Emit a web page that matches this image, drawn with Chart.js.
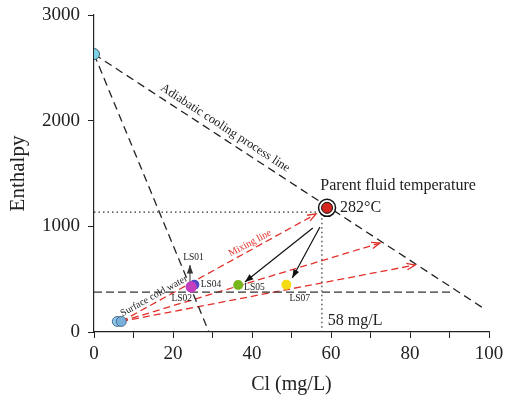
<!DOCTYPE html>
<html><head><meta charset="utf-8">
<script src="https://cdn.jsdelivr.net/npm/chart.js@4/dist/chart.umd.min.js"></script>
<style>html,body{margin:0;padding:0;background:#fff}#wrap{width:505px;height:405px}</style>
</head><body><div id="wrap"><canvas id="c" width="505" height="405"></canvas></div>
<script>
// ---- data ----
const xTicks = [0, 20, 40, 60, 80, 100];
const yTicks = [0, 1000, 2000, 3000];
const steamPoint = [{x: 0, y: 2630}];
const parentFluid = [{x: 59, y: 1175}];
const coldWaterA = [{x: 5.9, y: 100}];
const coldWaterB = [{x: 6.9, y: 100}];
const sampleNames = ['LS01', 'LS02', 'LS04', 'LS05', 'LS07'];
const sampleCl = [24.6, 24.6, 25.4, 36.5, 48.7];
const sampleH = [428, 426, 448, 445, 447];
const adiabaticLine = [{x: 0, y: 2630}, {x: 98.5, y: 227}];
const steamLossLine = [{x: 0, y: 2630}, {x: 29.1, y: 0}];
const enthalpyLevel = [{x: 0, y: 378}, {x: 91, y: 378}];
const parentGuide = [{x: 0, y: 1135}, {x: 57.7, y: 1135}, {x: 57.7, y: 0}];
const mixingLine1 = [{x: 6.9, y: 100}, {x: 56.2, y: 1117}];
const mixingLine2 = [{x: 6.9, y: 100}, {x: 72.4, y: 842}];
const mixingLine3 = [{x: 6.9, y: 100}, {x: 81.3, y: 634}];
const coolArrow1 = [{x: 55.4, y: 984}, {x: 38.2, y: 473}];
const coolArrow2 = [{x: 57.2, y: 993}, {x: 50.2, y: 511}];
const labelArrow = [{x: 24.3, y: 463}, {x: 24.3, y: 634}];

const SERIF = "'Liberation Serif','DejaVu Serif',serif";
const pt = (i) => ({x: sampleCl[i], y: sampleH[i]});

function lineDs(data, color, dash, width, arrow) {
  return {type: 'line', data, borderColor: color, borderDash: dash, borderWidth: width,
    pointRadius: 0, fill: false, tension: 0, arrow: arrow || null, order: 5};
}
function ptDs(data, fill, border, r, bw, order) {
  return {type: 'scatter', data, backgroundColor: fill, borderColor: border,
    pointRadius: r, borderWidth: bw, order: order};
}

const arrowPlugin = {
  id: 'arrows',
  afterDatasetsDraw(chart) {
    const ctx = chart.ctx, xs = chart.scales.x, ys = chart.scales.y;
    chart.data.datasets.forEach(ds => {
      if (!ds.arrow) return;
      const d = ds.data, n = d.length;
      const x1 = xs.getPixelForValue(d[n-1].x), y1 = ys.getPixelForValue(d[n-1].y);
      const x0 = xs.getPixelForValue(d[n-2].x), y0 = ys.getPixelForValue(d[n-2].y);
      const a = Math.atan2(y1 - y0, x1 - x0), L = 9, w = 0.36;
      ctx.save();
      ctx.strokeStyle = ds.borderColor; ctx.fillStyle = ds.borderColor; ctx.lineWidth = ds.borderWidth;
      ctx.setLineDash([]);
      ctx.beginPath();
      ctx.moveTo(x1 - L*Math.cos(a - w), y1 - L*Math.sin(a - w));
      ctx.lineTo(x1, y1);
      ctx.lineTo(x1 - L*Math.cos(a + w), y1 - L*Math.sin(a + w));
      if (ds.arrow === 'filled') { ctx.closePath(); ctx.fill(); } else { ctx.stroke(); }
      ctx.restore();
    });
  }
};

const textPlugin = {
  id: 'texts',
  afterDraw(chart) {
    const ctx = chart.ctx, xs = chart.scales.x, ys = chart.scales.y;
    const T = (txt, x, y, size, color, angle, align) => {
      ctx.save();
      ctx.translate(xs.getPixelForValue(x), ys.getPixelForValue(y));
      ctx.rotate((angle || 0) * Math.PI / 180);
      ctx.font = size + 'px ' + SERIF;
      ctx.fillStyle = color || '#222';
      ctx.textAlign = align || 'left';
      ctx.textBaseline = 'middle';
      ctx.fillText(txt, 0, 0);
      ctx.restore();
    };
    T('Adiabatic cooling process line', 33.2, 1930, 12.5, '#222', 33, 'center');
    T('Parent fluid temperature', 57.3, 1380, 16, '#222', 0, 'left');
    T('282°C', 62.3, 1175, 16, '#222', 0, 'left');
    T('Mixing line', 39.5, 840, 10, '#e2302a', -28, 'center');
    T('Surface cold water', 15.2, 340, 10, '#222', -29, 'center');
    T(sampleNames[0], 22.6, 705, 9.5, '#222', 0, 'left');
    T(sampleNames[1], 19.6, 320, 9.5, '#222', 0, 'left');
    T(sampleNames[2], 27.0, 448, 9.5, '#222', 0, 'left');
    T(sampleNames[3], 38.0, 420, 9.5, '#222', 0, 'left');
    T(sampleNames[4], 49.5, 320, 9.5, '#222', 0, 'left');
    T('58 mg/L', 59.2, 110, 16, '#222', 0, 'left');
  }
};

new Chart(document.getElementById('c'), {
  data: {
    datasets: [
      lineDs(adiabaticLine, '#222', [8, 5], 1.3),
      lineDs(steamLossLine, '#222', [8, 5], 1.3),
      lineDs(enthalpyLevel, '#333', [8, 4], 1.3),
      lineDs(parentGuide, '#333', [1.5, 3], 1.2),
      lineDs(mixingLine1, '#e2302a', [7, 4], 1.3, 'open'),
      lineDs(mixingLine2, '#e2302a', [7, 4], 1.3, 'open'),
      lineDs(mixingLine3, '#e2302a', [7, 4], 1.3, 'open'),
      lineDs(coolArrow1, '#111', [], 1.2, 'filled'),
      lineDs(coolArrow2, '#111', [], 1.2, 'filled'),
      lineDs(labelArrow, '#333', [], 1, 'filled'),
      ptDs(steamPoint, '#7dd3e8', '#3d5a6b', 5.5, 1, 1),
      ptDs(parentFluid, '#ffffff', '#111', 8.5, 1.5, 2),
      ptDs(parentFluid, '#d7261e', '#111', 5.5, 1, 1),
      ptDs(coldWaterA, '#8cc6ec', '#4a6a8a', 5, 1, 2),
      ptDs(coldWaterB, '#7ab0dc', '#4a6a8a', 5, 1, 1),
      ptDs([pt(2)], '#4a48c8', '#4a48c8', 5, 0, 2),
      ptDs([pt(0), pt(1)], '#c43fbf', '#c43fbf', 5.5, 0, 1),
      ptDs([pt(3)], '#78b41c', '#78b41c', 5, 0, 1),
      ptDs([pt(4)], '#f5dc12', '#f5dc12', 5, 0, 1)
    ]
  },
  options: {
    responsive: false, animation: false,
    layout: {padding: {left: 0, right: 16, top: 15, bottom: 0}},
    plugins: {legend: {display: false}, tooltip: {enabled: false}},
    scales: {
      x: {
        type: 'linear', min: 0, max: 100,
        afterBuildTicks: (s) => { s.ticks = [0,10,20,30,40,50,60,70,80,90,100].map(v => ({value: v})); },
        ticks: {callback: (v) => xTicks.includes(v) ? String(v) : '', font: {family: SERIF, size: 19}, color: '#222', maxRotation: 0, padding: 5},
        grid: {drawOnChartArea: false, drawTicks: true, tickLength: 6, color: '#222', tickWidth: 1},
        border: {display: true, color: '#222', width: 1.2},
        title: {display: true, text: 'Cl (mg/L)', font: {family: SERIF, size: 20}, color: '#222', padding: {top: 4, bottom: 8}},
        afterFit: (s) => { s.height = 73; s.paddingLeft = 0; s.paddingRight = 0; }
      },
      y: {
        type: 'linear', min: 0, max: 3000,
        afterBuildTicks: (s) => { s.ticks = yTicks.map(v => ({value: v})); },
        ticks: {callback: (v) => String(v), font: {family: SERIF, size: 19}, color: '#222', padding: 8},
        grid: {drawOnChartArea: false, drawTicks: true, tickLength: 6, color: '#222', tickWidth: 1},
        border: {display: true, color: '#222', width: 1.2},
        title: {display: true, text: 'Enthalpy', font: {family: SERIF, size: 21}, color: '#222', padding: {top: 6, bottom: 0}},
        afterFit: (s) => { s.width = 94; s.paddingTop = 0; s.paddingBottom = 0; }
      }
    }
  },
  plugins: [arrowPlugin, textPlugin]
});
</script></body></html>
